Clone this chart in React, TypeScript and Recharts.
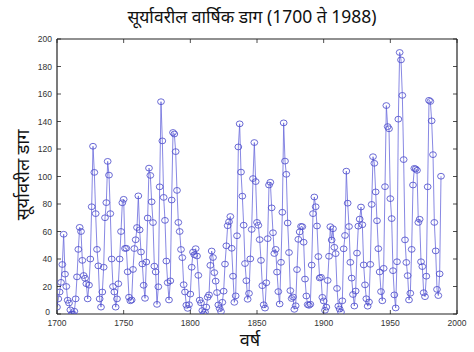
import React from 'react';
import { LineChart, Line, XAxis, YAxis } from 'recharts';

const FIRST_YEAR = 1700;
const SUNSPOTS: number[] = [
  5, 11, 16, 23, 36, 58, 29, 20, 10, 8,
  3, 0, 0, 2, 11, 27, 47, 63, 60, 39,
  28, 26, 22, 11, 21, 40, 78, 122, 103, 73,
  47, 35, 11, 5, 16, 34, 70, 81, 111, 101,
  73, 40, 20, 16, 5, 11, 22, 40, 60, 80.9,
  83.4, 47.7, 47.8, 30.7, 12.2, 9.6, 10.2, 32.4, 47.6, 54.0,
  62.9, 85.9, 61.2, 45.1, 36.4, 20.9, 11.4, 37.8, 69.8, 106.1,
  100.8, 81.6, 66.5, 34.8, 30.6, 7.0, 19.8, 92.5, 154.4, 125.9,
  84.8, 68.1, 38.5, 22.8, 10.2, 24.1, 82.9, 132.0, 130.9, 118.1,
  89.9, 66.6, 60.0, 46.9, 41.0, 21.3, 16.0, 6.4, 4.1, 6.8,
  14.5, 34.0, 45.0, 43.1, 47.5, 42.2, 28.1, 10.1, 8.1, 2.5,
  0.0, 1.4, 5.0, 12.2, 13.9, 35.4, 45.8, 41.1, 30.1, 23.9,
  15.6, 6.6, 4.0, 1.8, 8.5, 16.6, 36.3, 49.6, 64.2, 67.0,
  70.9, 47.8, 27.5, 8.5, 13.2, 56.9, 121.5, 138.3, 103.2, 85.7,
  64.6, 36.7, 24.2, 10.7, 15.0, 40.1, 61.5, 98.5, 124.7, 96.3,
  66.6, 64.5, 54.1, 39.0, 20.6, 6.7, 4.3, 22.7, 54.8, 93.8,
  95.8, 77.2, 59.1, 44.0, 47.0, 30.5, 16.3, 7.3, 37.6, 74.0,
  139.0, 111.2, 101.6, 66.2, 44.7, 17.0, 11.3, 12.4, 3.4, 6.0,
  32.3, 54.3, 59.7, 63.7, 63.5, 52.2, 25.4, 13.1, 6.8, 6.3,
  7.1, 35.6, 73.0, 85.1, 78.0, 64.0, 41.8, 26.2, 26.7, 12.1,
  9.5, 2.7, 5.0, 24.4, 42.0, 63.5, 53.8, 62.0, 48.5, 43.9,
  18.6, 5.7, 3.6, 1.4, 9.6, 47.4, 57.1, 103.9, 80.6, 63.6,
  37.6, 26.1, 14.2, 5.8, 16.7, 44.3, 63.9, 69.0, 77.8, 64.9,
  35.7, 21.2, 11.1, 5.7, 8.7, 36.1, 79.7, 114.4, 109.6, 88.8,
  67.8, 47.5, 30.6, 16.3, 9.6, 33.2, 92.6, 151.6, 136.3, 134.7,
  83.9, 69.4, 31.5, 13.9, 4.4, 38.0, 141.7, 190.2, 184.8, 159.0,
  112.3, 53.9, 37.5, 27.9, 10.2, 15.1, 47.0, 93.8, 105.9, 105.5,
  104.5, 66.6, 68.9, 38.0, 34.5, 15.5, 12.6, 27.5, 92.5, 155.4,
  154.6, 140.5, 115.9, 66.6, 45.9, 17.9, 13.4, 29.2, 100.2,
];
const X_TICKS = [1700, 1750, 1800, 1850, 1900, 1950, 2000];
const Y_TICKS = [0, 20, 40, 60, 80, 100, 120, 140, 160, 180, 200];
const TITLE = 'सूर्यावरील वार्षिक डाग (1700 ते 1988)';
const X_LABEL = 'वर्ष';
const Y_LABEL = 'सूर्यावरील डाग';

const data = SUNSPOTS.map((v, i) => ({ year: FIRST_YEAR + i, value: v }));

const W = 474;
const H = 352;
const TICK_LEN = 4;
const AXIS_COLOR = '#222';
const TICK_FONT = '"Liberation Sans", Arial, sans-serif';
const DEVA_FONT = '"Noto Sans", "Noto Sans Devanagari", "Lohit Devanagari", sans-serif';

const LeftTick = (props: any) => {
  const { x, y, payload } = props;
  const ax = x + 4;
  const isZero = payload.value === 0;
  return (
    <g>
      <line x1={ax} y1={y} x2={ax + TICK_LEN} y2={y} stroke={AXIS_COLOR} strokeWidth={0.8} />
      <text
        x={isZero ? x - 3 : x - 1}
        y={y}
        dy={isZero ? 0.5 : 3}
        textAnchor="end"
        fontSize={8.5}
        fill="#333"
        fontFamily={TICK_FONT}
      >
        {payload.value}
      </text>
    </g>
  );
};

const RightTick = (props: any) => {
  const { x, y } = props;
  return <line x1={x} y1={y} x2={x - TICK_LEN} y2={y} stroke={AXIS_COLOR} strokeWidth={0.8} />;
};

const BottomTick = (props: any) => {
  const { x, y, payload } = props;
  return (
    <g>
      <line x1={x} y1={y} x2={x} y2={y - TICK_LEN} stroke={AXIS_COLOR} strokeWidth={0.8} />
      <text x={x} y={y + 12} textAnchor="middle" fontSize={8.5} fill="#333" fontFamily={TICK_FONT}>
        {payload.value}
      </text>
    </g>
  );
};

const TopTick = (props: any) => {
  const { x, y } = props;
  return <line x1={x} y1={y} x2={x} y2={y + TICK_LEN} stroke={AXIS_COLOR} strokeWidth={0.8} />;
};

const Marker = (props: any) => {
  const { cx, cy, index } = props;
  if (cx == null || cy == null) return <g key={index} />;
  return (
    <ellipse key={index} cx={cx} cy={cy} rx={3.4} ry={2.9} fill="none" stroke="#5050cc" strokeWidth={0.85} />
  );
};

export default function App() {
  return (
    <div style={{ position: 'absolute', left: 0, top: 0, width: W, height: H, background: '#fff' }}>
      <LineChart width={W} height={H} data={data} margin={{ top: 38, right: 16, bottom: 37, left: 56 }}>
        <XAxis
          xAxisId="b"
          dataKey="year"
          type="number"
          domain={[1700, 2000]}
          allowDataOverflow
          ticks={X_TICKS}
          height={1}
          tickSize={0}
          tickMargin={0}
          tickLine={false}
          tick={<BottomTick />}
          axisLine={{ stroke: AXIS_COLOR, strokeWidth: 1.2 }}
          interval={0}
        />
        <XAxis
          xAxisId="t"
          orientation="top"
          dataKey="year"
          type="number"
          domain={[1700, 2000]}
          allowDataOverflow
          ticks={X_TICKS}
          height={1}
          tickSize={0}
          tickMargin={0}
          tickLine={false}
          tick={<TopTick />}
          axisLine={{ stroke: AXIS_COLOR, strokeWidth: 1.2 }}
          interval={0}
        />
        <YAxis
          yAxisId="l"
          type="number"
          domain={[0, 200]}
          allowDataOverflow
          ticks={Y_TICKS}
          width={1}
          tickSize={0}
          tickMargin={4}
          tickLine={false}
          tick={<LeftTick />}
          axisLine={{ stroke: AXIS_COLOR, strokeWidth: 1.2 }}
          interval={0}
        />
        <YAxis
          yAxisId="r"
          orientation="right"
          type="number"
          domain={[0, 200]}
          allowDataOverflow
          ticks={Y_TICKS}
          width={1}
          tickSize={0}
          tickMargin={0}
          tickLine={false}
          tick={<RightTick />}
          axisLine={{ stroke: AXIS_COLOR, strokeWidth: 1.2 }}
          interval={0}
        />
        <Line
          xAxisId="b"
          yAxisId="l"
          type="linear"
          dataKey="value"
          stroke="#6a6adc"
          strokeWidth={0.8}
          dot={<Marker />}
          activeDot={false}
          isAnimationActive={false}
        />
      </LineChart>
      <div
        style={{
          position: 'absolute',
          left: 0,
          width: 504,
          top: 4,
          textAlign: 'center',
          fontFamily: DEVA_FONT,
          fontSize: 17.5,
          color: '#111',
          lineHeight: '24px',
          whiteSpace: 'nowrap',
        }}
      >
        {TITLE}
      </div>
      <div
        style={{
          position: 'absolute',
          left: 22,
          top: 175,
          transform: 'translate(-50%, -50%) rotate(-90deg)',
          fontFamily: DEVA_FONT,
          fontSize: 18,
          color: '#111',
          whiteSpace: 'nowrap',
          lineHeight: '24px',
        }}
      >
        {Y_LABEL}
      </div>
      <div
        style={{
          position: 'absolute',
          left: 250,
          top: 339,
          transform: 'translate(-50%, -50%)',
          fontFamily: DEVA_FONT,
          fontSize: 18,
          color: '#111',
          whiteSpace: 'nowrap',
          lineHeight: '24px',
        }}
      >
        {X_LABEL}
      </div>
    </div>
  );
}
